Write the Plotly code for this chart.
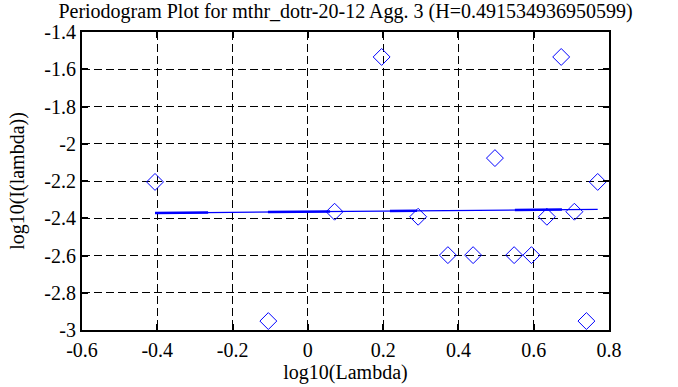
import plotly.graph_objects as go

# Periodogram points (log10 lambda, log10 I(lambda))
log_lambda = [-0.406, -0.105, 0.071, 0.196, 0.293, 0.372, 0.439, 0.497,
              0.548, 0.594, 0.635, 0.673, 0.708, 0.740, 0.770]
log_I = [-2.205, -2.952, -2.365, -1.534, -2.392, -2.598, -2.598, -2.077,
         -2.598, -2.598, -2.392, -1.534, -2.365, -2.952, -2.205]

# Fitted line endpoints
fit_x = [-0.406, 0.770]
fit_y = [-2.372, -2.352]

# Thicker segments of the drawn fit line (x ranges)
thick_x = [[-0.406, -0.265], [-0.106, 0.059], [0.218, 0.29], [0.55, 0.675]]

x_ticks = [-0.6, -0.4, -0.2, 0, 0.2, 0.4, 0.6, 0.8]
y_ticks = [-3, -2.8, -2.6, -2.4, -2.2, -2, -1.8, -1.6, -1.4]

title_text = "Periodogram Plot for mthr_dotr-20-12 Agg. 3 (H=0.491534936950599)"

FONT = "Liberation Serif, 'Times New Roman', Times, serif"
BLUE = "#0000ff"


def fit_at(x):
    return fit_y[0] + (fit_y[1] - fit_y[0]) * (x - fit_x[0]) / (fit_x[1] - fit_x[0])


fig = go.Figure()
fig.add_trace(go.Scatter(x=fit_x, y=fit_y, mode="lines",
                         line=dict(color=BLUE, width=1.2), showlegend=False,
                         hoverinfo="skip"))
for seg in thick_x:
    fig.add_trace(go.Scatter(x=seg, y=[fit_at(v) for v in seg], mode="lines",
                             line=dict(color=BLUE, width=2.5), showlegend=False,
                             hoverinfo="skip"))
fig.add_trace(go.Scatter(x=log_lambda, y=log_I, mode="markers",
                         marker=dict(symbol="diamond-open", size=13, color=BLUE,
                                     line=dict(width=1, color=BLUE)),
                         showlegend=False))

axis_common = dict(
    showline=True, linecolor="black", linewidth=2, mirror="ticks",
    ticks="inside", ticklen=6, tickwidth=2, tickcolor="black",
    showgrid=True, gridcolor="black", gridwidth=1, griddash="8px,4px",
    zeroline=False, automargin=False,
    tickfont=dict(family=FONT, size=20, color="black"),
)

fig.update_xaxes(range=[-0.6, 0.8], tickvals=x_ticks,
                 ticktext=[f"{v:g}" for v in x_ticks],
                 ticklabelstandoff=1,
                 title=dict(text="log10(Lambda)", font=dict(family=FONT, size=20, color="black"),
                            standoff=3),
                 **axis_common)
fig.update_yaxes(range=[-3, -1.4], tickvals=y_ticks,
                 ticktext=[f"{v:g}" for v in y_ticks],
                 title=dict(text="log10(I(lambda))", font=dict(family=FONT, size=20, color="black"),
                            standoff=14),
                 **axis_common)

fig.update_layout(
    width=678, height=387,
    margin=dict(l=82, r=69, t=32, b=57, autoexpand=False),
    plot_bgcolor="white", paper_bgcolor="white",
    title=dict(text=title_text, x=0.5, xref="paper", y=0.99, yref="container",
               yanchor="top", automargin=False,
               font=dict(family=FONT, size=20, color="black")),
    font=dict(family=FONT, color="black"),
)

fig.write_html("out.html", config={"displayModeBar": False},
               post_script="document.body.style.margin='0';document.body.style.overflow='hidden';")
